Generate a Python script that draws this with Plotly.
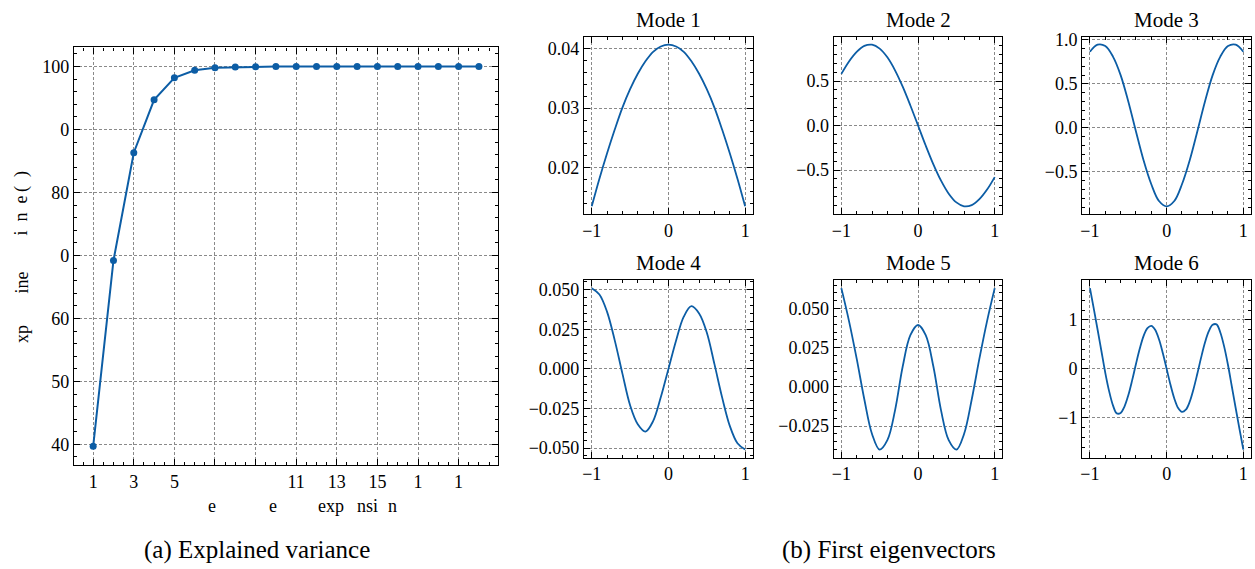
import plotly.graph_objects as go

W, H = 1255, 569
FONT = "Liberation Serif"
BLUE = "#0C5DA5"

# ---------------- data: (a) explained variance ----------------
n_terms = list(range(1, 21))
explained = [39.7, 69.2, 86.3, 94.7, 98.2, 99.4, 99.8, 99.9, 99.95, 100.0,
             100.0, 100.0, 100.0, 100.0, 100.0, 100.0, 100.0, 100.0, 100.0, 100.0]
var_yticks = [40, 50, 60, 70, 80, 90, 100]
var_yticklabels = ["40", "50", "60", "0", "80", "0", "100"]
var_xticks = [1, 3, 5, 7, 9, 11, 13, 15, 17, 19]
var_xticklabels = ["1", "3", "5", "", "", "11", "13", "15", "1", "1"]

# ---------------- data: (b) first eigenvectors ----------------
x_mode = [-1.0, -0.9, -0.8, -0.7, -0.6, -0.5, -0.4, -0.3, -0.2, -0.1, 0.0,
          0.1, 0.2, 0.3, 0.4, 0.5, 0.6, 0.7, 0.8, 0.9, 1.0]
mode1 = [0.01345, 0.0181, 0.0224, 0.0264, 0.0301, 0.0332, 0.0358, 0.0379, 0.0395, 0.0404, 0.0407,
         0.0404, 0.0395, 0.0379, 0.0358, 0.0332, 0.0301, 0.0264, 0.0224, 0.0181, 0.01345]
mode2 = [0.58, 0.72, 0.828, 0.895, 0.908, 0.864, 0.766, 0.62, 0.436, 0.225, 0.0,
         -0.225, -0.436, -0.62, -0.766, -0.864, -0.908, -0.895, -0.828, -0.72, -0.58]
mode3 = [0.865, 0.945, 0.93, 0.81, 0.60, 0.30, -0.04, -0.37, -0.64, -0.83, -0.89,
         -0.83, -0.64, -0.37, -0.04, 0.30, 0.60, 0.81, 0.93, 0.945, 0.865]
mode4 = [0.051, 0.047, 0.036, 0.018, -0.003, -0.023, -0.035, -0.0396, -0.033, -0.018, 0.0,
         0.018, 0.033, 0.0396, 0.035, 0.023, 0.003, -0.018, -0.036, -0.047, -0.051]
mode5 = [0.063, 0.042, 0.018, -0.008, -0.030, -0.040, -0.034, -0.015, 0.013, 0.033, 0.0395,
         0.033, 0.013, -0.015, -0.034, -0.040, -0.030, -0.008, 0.018, 0.042, 0.063]
x_mode6 = [-1.0, -0.95, -0.9, -0.85, -0.8, -0.75, -0.7, -0.65, -0.6, -0.55, -0.5,
           -0.45, -0.4, -0.35, -0.3, -0.25, -0.2, -0.15, -0.1, -0.05, 0.0,
           0.05, 0.1, 0.15, 0.2, 0.25, 0.3, 0.35, 0.4, 0.45, 0.5,
           0.55, 0.6, 0.65, 0.7, 0.75, 0.8, 0.85, 0.9, 0.95, 1.0]
mode6 = [1.65, 1.23, 0.80, 0.36, -0.08, -0.455, -0.745, -0.91, -0.90, -0.77, -0.54,
         -0.235, 0.10, 0.415, 0.675, 0.835, 0.88, 0.80, 0.604, 0.325, 0.0,
         -0.325, -0.604, -0.80, -0.88, -0.835, -0.675, -0.415, -0.10, 0.235, 0.54,
         0.77, 0.90, 0.91, 0.745, 0.455, 0.08, -0.36, -0.80, -1.23, -1.65]

mode_titles = ["Mode 1", "Mode 2", "Mode 3", "Mode 4", "Mode 5", "Mode 6"]
mode_x = [x_mode, x_mode, x_mode, x_mode, x_mode, x_mode6]
mode_y = [mode1, mode2, mode3, mode4, mode5, mode6]
mode_yticks = [[0.02, 0.03, 0.04],
               [-0.5, 0.0, 0.5],
               [-0.5, 0.0, 0.5, 1.0],
               [-0.05, -0.025, 0.0, 0.025, 0.05],
               [-0.025, 0.0, 0.025, 0.05],
               [-1, 0, 1]]
mode_yticklabels = [["0.02", "0.03", "0.04"],
                    ["\u22120.5", "0.0", "0.5"],
                    ["\u22120.5", "0.0", "0.5", "1.0"],
                    ["\u22120.050", "\u22120.025", "0.000", "0.025", "0.050"],
                    ["\u22120.025", "0.000", "0.025", "0.050"],
                    ["\u22121", "0", "1"]]
mode_yminor = [0.002, 0.1, 0.1, 0.005, 0.005, 0.2]
mode_xticks = [-1, 0, 1]
mode_xticklabels = ["\u22121", "0", "1"]


def px_x(p):
    return p / W


def px_y(p):
    return 1 - p / H


def padded(vals, frac=0.05):
    lo, hi = min(vals), max(vals)
    span = hi - lo
    return [lo - frac * span, hi + frac * span]


def axis_style(**kw):
    d = dict(showline=True, linecolor="black", linewidth=1.3, mirror="allticks",
             ticks="inside", ticklen=6, tickwidth=1.1, tickcolor="black",
             showgrid=True, gridcolor="#8a8a8a", griddash="3px,2px", gridwidth=0.8,
             zeroline=False, tickfont=dict(family=FONT, size=18, color="black"),
             tickmode="array", layer="above traces")
    d.update(kw)
    return d


fig = go.Figure()
layout = dict(width=W, height=H, margin=dict(l=0, r=0, t=0, b=0),
              paper_bgcolor="white", plot_bgcolor="white", showlegend=False,
              font=dict(family=FONT, color="black"))

# (a) panel
fig.add_trace(go.Scatter(x=n_terms, y=explained, mode="lines+markers",
                         line=dict(color=BLUE, width=2),
                         marker=dict(color=BLUE, size=7),
                         xaxis="x", yaxis="y"))
layout["xaxis"] = axis_style(domain=[px_x(72), px_x(497)], anchor="y",
                             range=padded(n_terms), tickvals=var_xticks,
                             ticktext=var_xticklabels,
                             minor=dict(ticks="inside", ticklen=3, tickcolor="black",
                                        tick0=1, dtick=0.5, showgrid=False))
layout["yaxis"] = axis_style(domain=[px_y(465), px_y(42)], anchor="x",
                             range=padded(explained), tickvals=var_yticks,
                             ticktext=var_yticklabels,
                             minor=dict(ticks="inside", ticklen=3, tickcolor="black",
                                        tick0=40, dtick=2, showgrid=False))

# (b) panels
col_px = [(583, 752), (833, 1002), (1082, 1251)]
row_px = [(31, 211), (277.5, 457.3)]
annotations = []
for i in range(6):
    r, c = divmod(i, 3)
    k = i + 2
    xa, ya = f"x{k}", f"y{k}"
    fig.add_trace(go.Scatter(x=mode_x[i], y=mode_y[i], mode="lines",
                             line=dict(color=BLUE, width=1.8, shape="spline", smoothing=1.0),
                             xaxis=xa, yaxis=ya))
    x0, x1 = col_px[c]
    y0, y1 = row_px[r]
    layout[f"xaxis{k}"] = axis_style(domain=[px_x(x0), px_x(x1)], anchor=ya,
                                     range=padded(mode_x[i]), tickvals=mode_xticks,
                                     ticktext=mode_xticklabels,
                                     minor=dict(ticks="inside", ticklen=3, tickcolor="black",
                                                tick0=-1, dtick=0.2, showgrid=False))
    layout[f"yaxis{k}"] = axis_style(domain=[px_y(y1), px_y(y0)], anchor=xa,
                                     range=padded(mode_y[i]), tickvals=mode_yticks[i],
                                     ticktext=mode_yticklabels[i],
                                     minor=dict(ticks="inside", ticklen=3, tickcolor="black",
                                                tick0=0, dtick=mode_yminor[i], showgrid=False))
    annotations.append(dict(text=mode_titles[i], x=px_x((x0 + x1) / 2), y=px_y(y0 - 17),
                            xref="paper", yref="paper", showarrow=False,
                            xanchor="center", yanchor="middle",
                            font=dict(family=FONT, size=21, color="black")))

# axis-title fragments of panel (a), as they appear
frag = dict(xref="paper", yref="paper", showarrow=False, xanchor="center", yanchor="middle",
            font=dict(family=FONT, size=18, color="black"))
for txt, cx in [("e", 210), ("e", 271), ("exp", 329.5), ("nsi", 366.5), ("n", 391.5)]:
    annotations.append(dict(frag, text=txt, x=px_x(cx), y=px_y(506)))
for txt, cy in [("xp", 332), ("ine", 280), ("i\u2002n\u2002e\u2009(\u2002)", 199)]:
    annotations.append(dict(frag, text=txt, x=px_x(20), y=px_y(cy), textangle=-90))

# captions
cap = dict(xref="paper", yref="paper", showarrow=False, xanchor="center", yanchor="middle",
           font=dict(family=FONT, size=25, color="black"))
annotations.append(dict(cap, text="(a) Explained variance", x=px_x(255), y=px_y(551)))
annotations.append(dict(cap, text="(b) First eigenvectors", x=px_x(888), y=px_y(551)))

layout["annotations"] = annotations
fig.update_layout(**layout)
fig.write_html("out.html", config={"displayModeBar": False},
               post_script="document.body.style.margin='0';document.body.style.overflow='hidden';")
